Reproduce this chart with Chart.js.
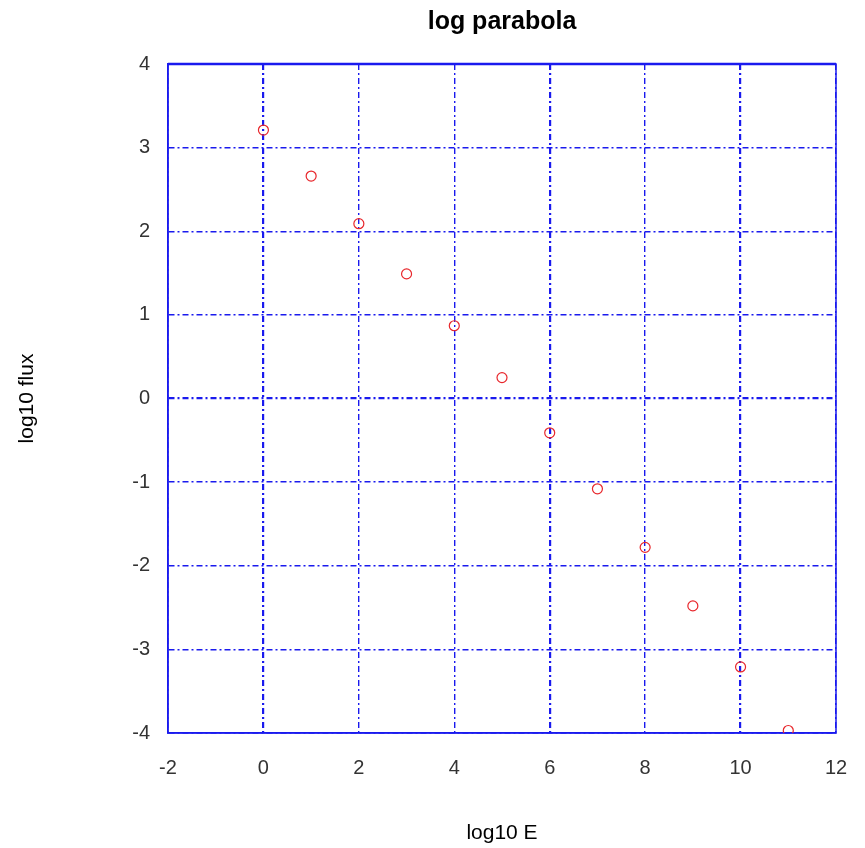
<!DOCTYPE html>
<html>
<head>
<meta charset="utf-8">
<title>log parabola</title>
<script src="https://cdn.jsdelivr.net/npm/chart.js@4.4.1/dist/chart.umd.min.js"></script>
<style>
  html, body { margin: 0; padding: 0; background: #fff; overflow: hidden; }
  #wrap { width: 865px; height: 848px; }
  canvas { display: block; }
</style>
</head>
<body>
<div id="wrap"><canvas id="chart" width="865" height="848"></canvas></div>
<script>
/* data */
const logE    = [0, 1, 2, 3, 4, 5, 6, 7, 8, 9, 10, 11];
const logFlux = [3.21, 2.66, 2.09, 1.49, 0.87, 0.25, -0.41, -1.08, -1.78, -2.48, -3.21, -3.97];

const xTicks = [-2, 0, 2, 4, 6, 8, 10, 12];
const yTicks = [-4, -3, -2, -1, 0, 1, 2, 3, 4];

/* grid lines that look heavier in the original */
const heavyX = [0, 6, 10];
const heavyY = [0];

const TITLE = 'log parabola';
const FONT = "'Liberation Sans', Arial, sans-serif";
const GRID_BLUE = '#1a1aee';
const GRID_DASH = [6, 3, 2, 3];

const points = logE.map((x, i) => ({ x: x, y: logFlux[i] }));

new Chart(document.getElementById('chart'), {
  type: 'scatter',
  data: {
    datasets: [{
      label: TITLE,
      data: points,
      pointStyle: 'circle',
      pointRadius: 5,
      pointHoverRadius: 5,
      pointBorderWidth: 1.2,
      borderColor: '#e8262b',
      backgroundColor: 'rgba(0,0,0,0)',
      showLine: false
    }]
  },
  options: {
    responsive: false,
    animation: false,
    devicePixelRatio: 1,
    layout: { padding: { left: 0, right: 29, top: 64, bottom: 0 } },
    plugins: {
      legend: { display: false },
      tooltip: { enabled: false },
      title: { display: false }
    },
    scales: {
      x: {
        type: 'linear',
        min: -2, max: 12,
        afterBuildTicks: s => { s.ticks = xTicks.map(v => ({ value: v })); },
        afterFit: s => { s.height = 115; s.paddingLeft = 0; s.paddingRight = 0; },
        border: { display: true, color: GRID_BLUE, width: 1.5, dash: GRID_DASH },
        grid: {
          drawTicks: false,
          color: GRID_BLUE,
          lineWidth: c => heavyX.includes(c.tick && c.tick.value) ? 2.2 : 1.4
        },
        ticks: {
          padding: 23,
          color: '#333',
          font: { family: FONT, size: 20 }
        },
        title: {
          display: true,
          text: 'log10 E',
          color: '#000',
          font: { family: FONT, size: 21 },
          padding: { top: 0, bottom: 2 }
        }
      },
      y: {
        type: 'linear',
        min: -4, max: 4,
        afterBuildTicks: s => { s.ticks = yTicks.map(v => ({ value: v })); },
        afterFit: s => { s.width = 168; s.paddingTop = 0; s.paddingBottom = 0; },
        border: { display: true, color: GRID_BLUE, width: 1.5, dash: GRID_DASH },
        grid: {
          drawTicks: false,
          color: GRID_BLUE,
          lineWidth: c => heavyY.includes(c.tick && c.tick.value) ? 2.2 : 1.4
        },
        ticks: {
          padding: 18,
          color: '#333',
          font: { family: FONT, size: 20 }
        },
        title: {
          display: true,
          text: 'log10 flux',
          color: '#000',
          font: { family: FONT, size: 21 },
          padding: { top: 15, bottom: 0 }
        }
      }
    }
  },
  plugins: [{
    /* solid box round the plot, heavier on top */
    id: 'plotBox',
    beforeDatasetsDraw(chart) {
      const { ctx, chartArea: a } = chart;
      ctx.save();
      ctx.strokeStyle = GRID_BLUE;
      ctx.setLineDash([]);
      ctx.lineWidth = 1.5;
      ctx.strokeRect(a.left, a.top, a.right - a.left, a.bottom - a.top);
      ctx.lineWidth = 2.5;
      ctx.beginPath();
      ctx.moveTo(a.left, a.top);
      ctx.lineTo(a.right, a.top);
      ctx.stroke();
      ctx.restore();
    }
  }, {
    /* title centred over the plot area, as in the original */
    id: 'plotTitle',
    afterDraw(chart) {
      const { ctx, chartArea: a } = chart;
      ctx.save();
      ctx.fillStyle = '#000';
      ctx.font = "bold 25px " + FONT;
      ctx.textAlign = 'center';
      ctx.textBaseline = 'middle';
      ctx.fillText(TITLE, (a.left + a.right) / 2, 22);
      ctx.restore();
    }
  }]
});
</script>
</body>
</html>
